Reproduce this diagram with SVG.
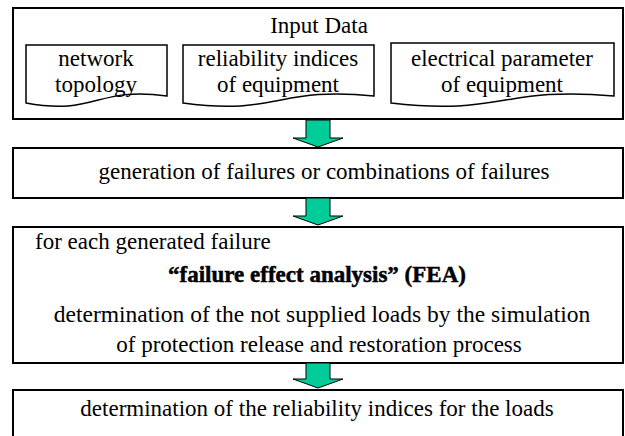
<svg xmlns="http://www.w3.org/2000/svg" width="625" height="436" viewBox="0 0 625 436">
<style>
.box{fill:#fff;stroke:#000;stroke-width:2}
.doc{fill:#fff;stroke:#000;stroke-width:1.5}
.t{font-family:'Liberation Serif','Times New Roman',serif;font-size:23px;fill:#000;text-anchor:middle}
.b{font-weight:bold;stroke:#000;stroke-width:0.5}
.arrow{fill:#00CC99;stroke:#000;stroke-width:1}
</style>
<rect width="625" height="436" fill="#fff"/>
<g id="input-data">
<rect class="box" x="13" y="8" width="610" height="111"/>
<text class="t" x="319" y="33">Input Data</text>
</g>
<g id="network-topology">
<path class="doc" d="M26,45 H167 V96 C96,86 96,116 26,103 Z"/>
<text class="t" x="96" y="66">network</text>
<text class="t" x="96" y="92">topology</text>
</g>
<g id="reliability-indices">
<path class="doc" d="M183,45 H374 V96 C278,86 278,116 183,103 Z"/>
<text class="t" x="278" y="66">reliability indices</text>
<text class="t" x="278" y="92">of equipment</text>
</g>
<g id="electrical-parameter">
<path class="doc" d="M391,43 H614 V96 C502,86 502,116 391,103 Z"/>
<text class="t" x="502" y="66">electrical parameter</text>
<text class="t" x="502" y="92">of equipment</text>
</g>
<g id="generation">
<rect class="box" x="13" y="148" width="610" height="50"/>
<text class="t" x="324" y="179">generation of failures or combinations of failures</text>
</g>
<g id="fea">
<rect class="box" x="13" y="227" width="610" height="136"/>
<text class="t" x="35" y="249" style="text-anchor:start">for each generated failure</text>
<text class="t b" x="317" y="282">“failure effect analysis” (FEA)</text>
<text class="t" x="322" y="322" style="font-size:23.5px">determination of the not supplied loads by the simulation</text>
<text class="t" x="319" y="352">of protection release and restoration process</text>
</g>
<g id="reliability-loads">
<rect class="box" x="13" y="390" width="610" height="60"/>
<text class="t" x="317" y="416">determination of the reliability indices for the loads</text>
</g>
<g id="connectors">
<path class="arrow" d="M306,120 H330 V138 H343 L318,147 L293,138 H306 Z"/>
<path class="arrow" d="M306,198 H330 V216 H343 L318,225 L293,216 H306 Z"/>
<path class="arrow" d="M306,363 H330 V379 H343 L318,388 L293,379 H306 Z"/>
</g>
</svg>
